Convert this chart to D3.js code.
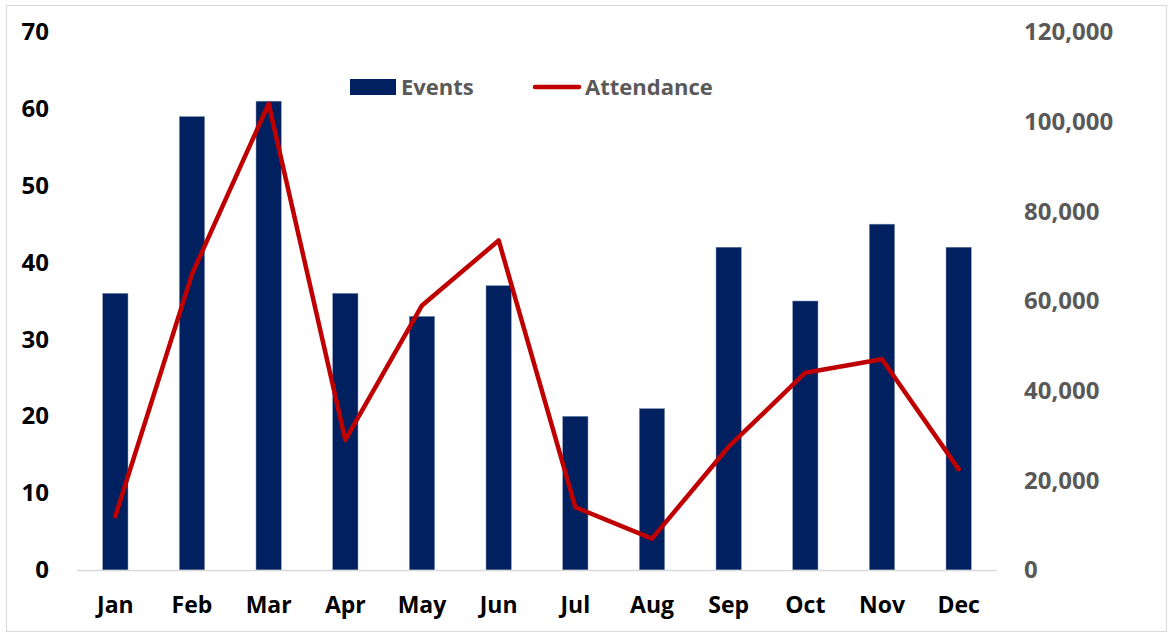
<!DOCTYPE html>
<html lang="en">
<head>
<meta charset="utf-8">
<title>Events and Attendance</title>
<style>
  body { margin: 0; background: #fff; }
  svg { display: block; font-family: "Open Sans", "Liberation Sans", sans-serif; font-weight: bold; }
  .left-axis text { fill: #000; font-size: 24px; }
  .right-axis text { fill: #595959; font-size: 24px; }
  .x-axis text { fill: #000; font-size: 23px; }
  .legend text { fill: #595959; font-size: 22px; }
</style>
</head>
<body>
<div id="chart"></div>
<script src="https://cdn.jsdelivr.net/npm/d3@7"></script>
<script>
  var months = ["Jan", "Feb", "Mar", "Apr", "May", "Jun", "Jul", "Aug", "Sep", "Oct", "Nov", "Dec"];
  var events = [36, 59, 61, 36, 33, 37, 20, 21, 42, 35, 45, 42];
  var attendance = [12000, 66000, 104000, 29000, 59000, 73500, 14000, 7000, 27500, 44000, 47000, 22500];
  var eventTicks = [0, 10, 20, 30, 40, 50, 60, 70];
  var attendanceTicks = [0, 20000, 40000, 60000, 80000, 100000, 120000];

  var width = 1169,
      height = 634;
  var margin = {top: 32, right: 172, bottom: 64, left: 77};

  var svg = d3.select("#chart")
      .append("svg")
      .attr("width", width)
      .attr("height", height);

  // chart frame
  svg.append("rect")
      .attr("x", 6.5)
      .attr("y", 5.5)
      .attr("width", 1160)
      .attr("height", 626)
      .attr("fill", "none")
      .attr("stroke", "#d9d9d9");

  var x = d3.scaleBand()
      .domain(months)
      .range([margin.left, width - margin.right])
      .paddingInner(0.67)
      .paddingOuter(0.335);

  var yLeft = d3.scaleLinear()
      .domain([0, 70])
      .range([height - margin.bottom, margin.top]);

  var yRight = d3.scaleLinear()
      .domain([0, 120000])
      .range([height - margin.bottom, margin.top]);

  // bars
  svg.append("g")
    .selectAll("rect")
      .data(events)
    .enter().append("rect")
      .attr("x", function(d, i) { return x(months[i]); })
      .attr("y", function(d) { return yLeft(d); })
      .attr("width", x.bandwidth())
      .attr("height", function(d) { return yLeft(0) - yLeft(d); })
      .attr("fill", "#002060")
      .attr("stroke", "#8496b0")
      .attr("stroke-width", 0.5);

  // baseline
  svg.append("line")
      .attr("x1", margin.left)
      .attr("x2", width - margin.right)
      .attr("y1", yLeft(0) + 0.5)
      .attr("y2", yLeft(0) + 0.5)
      .attr("stroke", "#d9d9d9")
      .attr("stroke-width", 1.5);

  // attendance line
  var line = d3.line()
      .x(function(d, i) { return x(months[i]) + x.bandwidth() / 2; })
      .y(function(d) { return yRight(d); });

  svg.append("path")
      .datum(attendance)
      .attr("d", line)
      .attr("fill", "none")
      .attr("stroke", "#c00000")
      .attr("stroke-width", 4.5)
      .attr("stroke-linejoin", "round")
      .attr("stroke-linecap", "round");

  // axes
  var leftAxis = svg.append("g")
      .attr("class", "left-axis")
      .attr("transform", "translate(" + margin.left + ",0)")
      .call(d3.axisLeft(yLeft).tickValues(eventTicks).tickSize(0).tickPadding(28));

  var rightAxis = svg.append("g")
      .attr("class", "right-axis")
      .attr("transform", "translate(" + (width - margin.right) + ",0)")
      .call(d3.axisRight(yRight).tickValues(attendanceTicks).tickFormat(d3.format(",")).tickSize(0).tickPadding(27));

  var xAxis = svg.append("g")
      .attr("class", "x-axis")
      .attr("transform", "translate(0," + (height - margin.bottom) + ")")
      .call(d3.axisBottom(x).tickSize(0).tickPadding(27));

  // let the stylesheet decide the text
  [leftAxis, rightAxis, xAxis].forEach(function(g) {
    g.select(".domain").remove();
    g.attr("font-family", null).attr("font-size", null);
  });

  // legend
  var legend = svg.append("g").attr("class", "legend");
  legend.append("rect")
      .attr("x", 350)
      .attr("y", 79)
      .attr("width", 46)
      .attr("height", 16)
      .attr("fill", "#002060");
  legend.append("text")
      .attr("x", 401)
      .attr("y", 87)
      .attr("dy", "0.35em")
      .text("Events");
  legend.append("line")
      .attr("x1", 535)
      .attr("x2", 579)
      .attr("y1", 87)
      .attr("y2", 87)
      .attr("stroke", "#c00000")
      .attr("stroke-width", 4.5)
      .attr("stroke-linecap", "round");
  legend.append("text")
      .attr("x", 585)
      .attr("y", 87)
      .attr("dy", "0.35em")
      .text("Attendance");
</script>
</body>
</html>
